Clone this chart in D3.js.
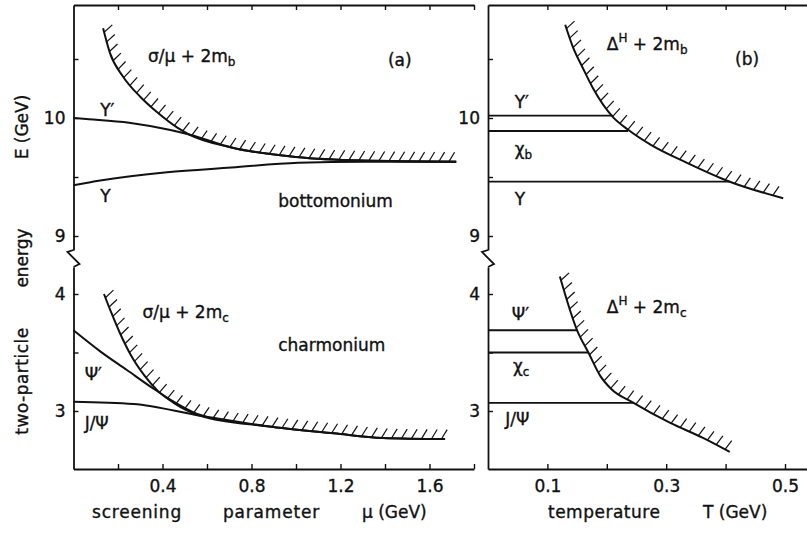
<!DOCTYPE html>
<html>
<head>
<meta charset="utf-8">
<script src="https://cdn.jsdelivr.net/npm/d3@7"></script>
<style>
  body { margin: 0; background: #fff; }
  svg { display: block; }
  text { font-family: 'DejaVu Sans', sans-serif; fill: #111; stroke: #111; stroke-width: 0.35px; }
</style>
</head>
<body>
<div id="chart"></div>
<script>
// ticks
const muTicks = [0.2, 0.4, 0.6, 0.8, 1.0, 1.2, 1.4, 1.6, 1.8]
const muLabels = [0.4, 0.8, 1.2, 1.6]
const tTicks = [0.1, 0.2, 0.3, 0.4, 0.5]
const tLabels = [0.1, 0.3, 0.5]
const upperTicks = [9, 9.5, 10, 10.5]
const lowerTicks = [3, 3.5, 4]
const eLabels = [3, 4, 9, 10]

// panel (a): [mu (GeV), E (GeV)]
const upsilon2sMu = [[0, 10.0], [0.07, 9.99], [0.25, 9.96], [0.43, 9.9], [0.52, 9.86], [0.71, 9.75], [1.0, 9.67], [1.3, 9.64], [1.72, 9.63]]
const upsilon1sMu = [[0, 9.43], [0.12, 9.47], [0.42, 9.54], [0.71, 9.58], [1.01, 9.62], [1.31, 9.63], [1.72, 9.63]]
const thresholdBMu = [[0.133, 10.76], [0.164, 10.55], [0.223, 10.35], [0.3, 10.18], [0.375, 10.05], [0.465, 9.92], [0.52, 9.86], [0.71, 9.75], [1.0, 9.67], [1.3, 9.64], [1.72, 9.63]]
const psi2sMu = [[0, 3.69], [0.12, 3.51], [0.24, 3.35], [0.36, 3.19], [0.45, 3.08], [0.55, 2.98], [0.6, 2.95]]
const jpsiMu = [[0, 3.08], [0.27, 3.06], [0.57, 2.96], [0.87, 2.87], [1.17, 2.81], [1.39, 2.77], [1.67, 2.76]]
const thresholdCMu = [[0.137, 4.0], [0.17, 3.84], [0.21, 3.66], [0.26, 3.47], [0.32, 3.3], [0.38, 3.17], [0.45, 3.07], [0.57, 2.96], [0.87, 2.87], [1.17, 2.81], [1.39, 2.77], [1.67, 2.76]]

// panel (b): [T (GeV), E (GeV)]
const thresholdBT = [[0.13, 10.79], [0.143, 10.6], [0.16, 10.42], [0.177, 10.25], [0.21, 10.01], [0.236, 9.9], [0.275, 9.77], [0.335, 9.62], [0.407, 9.46], [0.497, 9.32]]
const thresholdCT = [[0.121, 4.15], [0.15, 3.69], [0.169, 3.5], [0.189, 3.3], [0.207, 3.19], [0.245, 3.07], [0.306, 2.9], [0.362, 2.77], [0.407, 2.65]]
const bottomLevelE = [10.02, 9.89, 9.46]
const bottomLevelEnd = [0.21, 0.236, 0.407]
const charmLevelE = [3.69, 3.5, 3.07]
const charmLevelEnd = [0.15, 0.169, 0.245]

const width = 807
const height = 533
const topY = 5
const breakTop = 250
const breakBottom = 267
const bottomY = 469

const svg = d3.select('#chart').append('svg')
  .attr('width', width)
  .attr('height', height)

// scales
const xMu = d3.scaleLinear().domain([0, 1.8]).range([73.5, 474])
const xT = d3.scaleLinear().domain([0, 0.5]).range([488, 785])
xT.domain([0, xT.invert(809)]).range([488, 809])
const yUp = d3.scaleLinear().domain([9, 10]).range([236, 118])
yUp.domain([yUp.invert(breakTop), yUp.invert(topY)]).range([breakTop, topY])
const yLo = d3.scaleLinear().domain([3, 4]).range([411, 294])
yLo.domain([yLo.invert(bottomY), yLo.invert(breakBottom)]).range([bottomY, breakBottom])

function styleAxis(g) {
  g.selectAll('.domain').attr('stroke', '#111').attr('stroke-width', 1.8)
  g.selectAll('.tick line').attr('stroke', '#111').attr('stroke-width', 1.4)
  g.selectAll('.tick text').attr('font-size', 17).attr('fill', '#111')
    .attr('font-family', "'DejaVu Sans', sans-serif")
}

function drawPanel(x, xTicks, xLabels) {
  const x0 = x.range()[0]
  // left axis, upper and lower parts
  svg.append('g').attr('transform', `translate(${x0},0)`)
    .call(d3.axisLeft(yUp).tickValues(upperTicks).tickSize(-5).tickSizeOuter(0).tickPadding(8)
      .tickFormat(d => eLabels.includes(d) ? d : ''))
    .call(styleAxis)
  svg.append('g').attr('transform', `translate(${x0},0)`)
    .call(d3.axisLeft(yLo).tickValues(lowerTicks).tickSize(-5).tickSizeOuter(0).tickPadding(8)
      .tickFormat(d => eLabels.includes(d) ? d : ''))
    .call(styleAxis)
  // axis break
  const brk = d3.path()
  brk.moveTo(x0, breakTop)
  brk.lineTo(x0 - 6, breakTop + 2)
  brk.lineTo(x0 + 6, breakBottom - 3)
  brk.lineTo(x0, breakBottom)
  svg.append('path').attr('d', brk).attr('fill', 'none')
    .attr('stroke', '#111').attr('stroke-width', 1.8)
  // top border
  svg.append('g').attr('transform', `translate(0,${topY})`)
    .call(d3.axisTop(x).tickValues(xTicks).tickSize(-5).tickSizeOuter(0).tickFormat(''))
    .call(styleAxis)
  // bottom axis
  svg.append('g').attr('transform', `translate(0,${bottomY})`)
    .call(d3.axisBottom(x).tickValues(xTicks).tickSize(-5).tickSizeOuter(0).tickPadding(11)
      .tickFormat(d => xLabels.includes(d) ? String(d) : ''))
    .call(styleAxis)
}

drawPanel(xMu, muTicks, muLabels)
drawPanel(xT, tTicks, tLabels)

function curve(x, y, data, width = 2) {
  const line = d3.line().x(d => x(d[0])).y(d => y(d[1])).curve(d3.curveMonotoneX)
  return svg.append('path')
    .datum(data)
    .attr('d', line)
    .attr('fill', 'none')
    .attr('stroke', '#111')
    .attr('stroke-width', width)
}

// hatch marks on the upper side of a threshold curve
const hatchDir = [Math.cos(50 * Math.PI / 180), -Math.sin(50 * Math.PI / 180)]
function hatch(path, spacing = 10, len = 11) {
  const node = path.node()
  const total = node.getTotalLength()
  const marks = d3.range(spacing * 0.4, total - 2, spacing).map(l => {
    const p = node.getPointAtLength(l)
    const a = node.getPointAtLength(Math.max(0, l - 2))
    const b = node.getPointAtLength(Math.min(total, l + 2))
    let tx = b.x - a.x
    let ty = b.y - a.y
    const tl = Math.hypot(tx, ty) || 1
    tx /= tl
    ty /= tl
    // normal pointing up/right
    let nx = ty
    let ny = -tx
    if (ny > 0) { nx = -nx; ny = -ny }
    const dx = 0.3 * nx + hatchDir[0]
    const dy = 0.3 * ny + hatchDir[1]
    const dl = Math.hypot(dx, dy)
    return { x: p.x, y: p.y, dx: dx / dl * len, dy: dy / dl * len }
  })
  svg.append('g').selectAll('line').data(marks).join('line')
    .attr('x1', d => d.x).attr('y1', d => d.y)
    .attr('x2', d => d.x + d.dx).attr('y2', d => d.y + d.dy)
    .attr('stroke', '#111').attr('stroke-width', 1.2)
}

// panel (a)
curve(xMu, yUp, upsilon2sMu)
curve(xMu, yUp, upsilon1sMu)
hatch(curve(xMu, yUp, thresholdBMu))
curve(xMu, yLo, psi2sMu)
curve(xMu, yLo, jpsiMu)
hatch(curve(xMu, yLo, thresholdCMu))

// panel (b)
hatch(curve(xT, yUp, thresholdBT))
hatch(curve(xT, yLo, thresholdCT))
svg.append('g').selectAll('line').data(bottomLevelE).join('line')
  .attr('x1', xT(0)).attr('x2', (d, i) => xT(bottomLevelEnd[i]))
  .attr('y1', d => yUp(d)).attr('y2', d => yUp(d))
  .attr('stroke', '#111').attr('stroke-width', 1.8)
svg.append('g').selectAll('line').data(charmLevelE).join('line')
  .attr('x1', xT(0)).attr('x2', (d, i) => xT(charmLevelEnd[i]))
  .attr('y1', d => yLo(d)).attr('y2', d => yLo(d))
  .attr('stroke', '#111').attr('stroke-width', 1.8)

// text helpers
function label(x, y, main, sub) {
  const t = svg.append('text').attr('x', x).attr('y', y).attr('font-size', 17)
  t.append('tspan').text(main)
  if (sub) t.append('tspan').attr('font-size', 12).attr('dy', 4).text(sub)
  return t
}

function formula(x, y, head, sup, tail, sub) {
  const t = svg.append('text').attr('x', x).attr('y', y).attr('font-size', 17)
  t.append('tspan').text(head)
  if (sup) t.append('tspan').attr('font-size', 12).attr('dy', -8).text(sup)
  t.append('tspan').attr('dy', sup ? 8 : 0).text(tail)
  t.append('tspan').attr('font-size', 12).attr('dy', 4).text(sub)
}

// panel (a) annotations
formula(xMu(0.335), yUp(10.475), 'σ/μ + 2m', '', '', 'b')
label(xMu(1.413), yUp(10.44), '(a)')
label(xMu(0.12), yUp(10.017), 'Υ′')
label(xMu(0.12), yUp(9.29), 'Υ')
label(xMu(0.92), yUp(9.25), 'bottomonium')
formula(xMu(0.31), yLo(3.795), 'σ/μ + 2m', '', '', 'c')
label(xMu(0.92), yLo(3.51), 'charmonium')
label(xMu(0.05), yLo(3.265), 'Ψ′')
label(xMu(0.05), yLo(2.85), 'J/Ψ')

// panel (b) annotations
formula(xT(0.2), yUp(10.576), 'Δ', 'H', ' + 2m', 'b')
label(xT(0.416), yUp(10.45), '(b)')
label(xT(0.045), yUp(10.085), 'Υ′')
label(xT(0.045), yUp(9.69), 'χ', 'b')
label(xT(0.045), yUp(9.26), 'Υ')
formula(xT(0.2), yLo(3.84), 'Δ', 'H', ' + 2m', 'c')
label(xT(0.04), yLo(3.78), 'Ψ′')
label(xT(0.042), yLo(3.33), 'χ', 'c')
label(xT(0.029), yLo(2.88), 'J/Ψ')

// axis titles
svg.append('text').attr('transform', 'translate(28,127) rotate(-90)')
  .attr('text-anchor', 'middle').attr('font-size', 17).text('E (GeV)')
svg.append('text').attr('transform', 'translate(28,258) rotate(-90)')
  .attr('text-anchor', 'middle').attr('font-size', 17).text('energy')
svg.append('text').attr('transform', 'translate(28,381) rotate(-90)')
  .attr('text-anchor', 'middle').attr('font-size', 17).attr('letter-spacing', 0.5).text('two-particle')

svg.append('text').attr('x', 92).attr('y', 518).attr('font-size', 17).attr('letter-spacing', 0.8).text('screening')
svg.append('text').attr('x', 223).attr('y', 518).attr('font-size', 17).attr('letter-spacing', 0.8).text('parameter')
svg.append('text').attr('x', 362).attr('y', 518).attr('font-size', 17).text('μ (GeV)')
svg.append('text').attr('x', 548).attr('y', 518).attr('font-size', 17).attr('letter-spacing', 0.5).text('temperature')
svg.append('text').attr('x', 703).attr('y', 518).attr('font-size', 17).text('T (GeV)')
</script>
</body>
</html>
